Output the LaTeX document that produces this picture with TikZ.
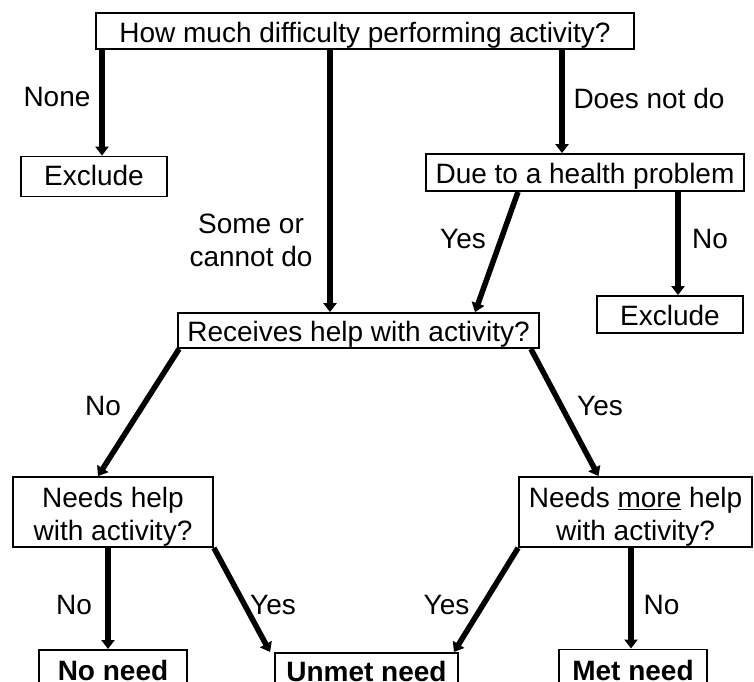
\documentclass[tikz,border=0pt]{standalone}
\usepackage{fontspec}
\setmainfont{Liberation Sans}
\usetikzlibrary{arrows.meta}
\begin{document}
\begin{tikzpicture}[x=1pt,y=-1pt,
    every node/.style={font=\fontsize{28}{33}\selectfont},
    box/.style={draw,line width=1.8pt,inner sep=0pt,text height=24pt,text depth=2pt},
    twobox/.style={draw,line width=1.8pt,inner sep=0pt,align=center},
    result/.style={box,font=\fontsize{28}{33}\selectfont\bfseries,anchor=north,
        minimum height=50pt,text height=20pt,text depth=8pt},
    arr/.style={line width=5.5pt,-{Triangle[width=13pt,length=9pt]}},
    lbl/.style={anchor=base,inner sep=0pt}]
    \useasboundingbox (0,0) rectangle (754,681);
    \clip (0,0) rectangle (754,681);
    % boxes
    \node[box,minimum width=538pt,minimum height=36pt] (how) at (365,31) {How much difficulty performing activity?};
    \node[box,minimum width=146pt,minimum height=40pt,text height=21pt,text depth=4pt] (exclL) at (94,176.5) {Exclude};
    \node[box,minimum width=318pt,minimum height=37pt] (health) at (585,172.5) {Due to a health problem};
    \node[box,minimum width=146pt,minimum height=37pt] (exclR) at (670,314.5) {Exclude};
    \node[box,minimum width=361pt,minimum height=35pt] (recv) at (358.5,330.5) {Receives help with activity?};
    \node[twobox,minimum width=200pt,minimum height=70pt] (need) at (113,512) {\rule{0pt}{29pt}Needs help\\with activity?};
    \node[twobox,minimum width=233pt,minimum height=70pt] (more) at (635.5,512) {\rule{0pt}{29pt}Needs \underline{more} help\\with activity?};
    \node[result,minimum width=148pt] (nn) at (113,649) {No need};
    \node[result,minimum width=183pt,text depth=12pt] (unmet) at (366.5,652) {Unmet need};
    \node[result,minimum width=148pt] (met) at (633,648.5) {Met need};
    % arrows
    \draw[arr] ([xshift=-263pt]how.south) -- ([xshift=8pt]exclL.north);
    \draw[arr] ([xshift=-35pt]how.south) -- ([xshift=-28.5pt]recv.north);
    \draw[arr] ([xshift=197pt]how.south) -- ([xshift=-23pt]health.north);
    \draw[arr] ([xshift=-67pt]health.south) -- ([xshift=116.5pt]recv.north);
    \draw[arr] ([xshift=93pt]health.south) -- ([xshift=8pt]exclR.north);
    \draw[arr] ([xshift=2pt]recv.south west) -- ([xshift=-15pt]need.north);
    \draw[arr] ([xshift=-9pt]recv.south east) -- ([xshift=-37pt]more.north);
    \draw[arr] ([xshift=-5pt]need.south) -- ([xshift=-5pt]nn.north);
    \draw[arr] (need.south east) -- ([xshift=-4pt]unmet.north west);
    \draw[arr] (more.south west) -- ([xshift=-5pt]unmet.north east);
    \draw[arr] ([xshift=-4.5pt]more.south) -- ([xshift=-2pt]met.north);
    % labels
    \node[lbl] (none) at (57,106) {None};
    \node[lbl] (dnd) at (649,108) {Does not do};
    \node[align=center,inner sep=0pt] (some) at (251,240) {Some or\\cannot do};
    \node[lbl] (yes1) at (463,248) {Yes};
    \node[lbl] (no1) at (710,248) {No};
    \node[lbl] (no2) at (103,415) {No};
    \node[lbl] (yes2) at (600,415) {Yes};
    \node[lbl] (no3) at (74,614) {No};
    \node[lbl] (yes3) at (273,614) {Yes};
    \node[lbl] (yes4) at (446.5,614) {Yes};
    \node[lbl] (no4) at (661.5,614) {No};
\end{tikzpicture}
\end{document}
